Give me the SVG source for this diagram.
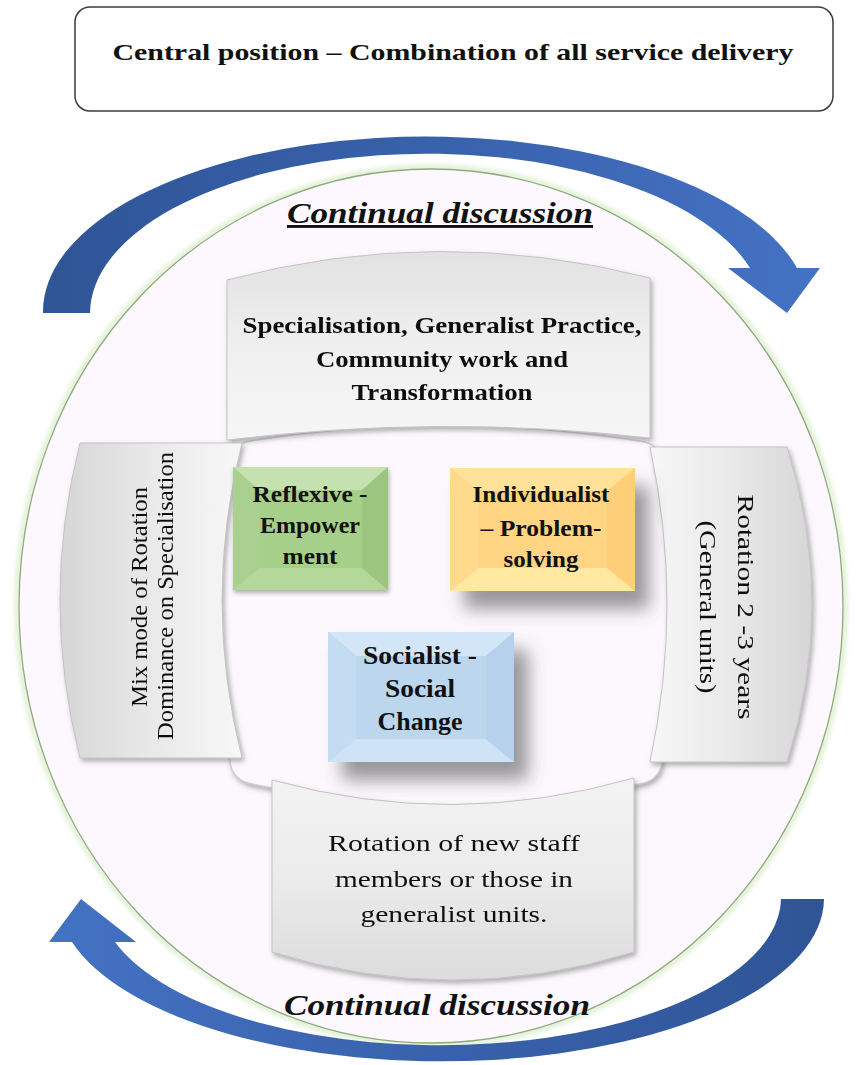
<svg xmlns="http://www.w3.org/2000/svg" width="857" height="1065" viewBox="0 0 857 1065">
  <style>
    .serif { font-family: "Liberation Serif", "DejaVu Serif", serif; fill: #111; }
    .b { font-weight: bold; }
    .mid { text-anchor: middle; }
    .cont { font-family: "Liberation Serif", "DejaVu Serif", serif; font-style: italic; font-weight: bold; font-size: 29px; fill: #111; text-anchor: middle; }
    .plate { stroke: #c4c4c4; stroke-width: 1; }
  </style>
  <defs>
    <linearGradient id="arrowTop" gradientUnits="userSpaceOnUse" x1="43" y1="0" x2="820" y2="0">
      <stop offset="0" stop-color="#2f5597"/>
      <stop offset="0.55" stop-color="#3a63ae"/>
      <stop offset="1" stop-color="#4472c4"/>
    </linearGradient>
    <linearGradient id="arrowBottom" gradientUnits="userSpaceOnUse" x1="49" y1="0" x2="824" y2="0">
      <stop offset="0" stop-color="#4472c4"/>
      <stop offset="0.45" stop-color="#3a63ae"/>
      <stop offset="1" stop-color="#2f5597"/>
    </linearGradient>
    <linearGradient id="gTop" x1="0" y1="0" x2="0" y2="1">
      <stop offset="0" stop-color="#e2e2e2"/>
      <stop offset="0.5" stop-color="#efefef"/>
      <stop offset="1" stop-color="#f6f6f6"/>
    </linearGradient>
    <linearGradient id="gBottom" x1="0" y1="1" x2="0" y2="0">
      <stop offset="0" stop-color="#dcdcdc"/>
      <stop offset="0.5" stop-color="#ebebeb"/>
      <stop offset="1" stop-color="#f3f3f3"/>
    </linearGradient>
    <linearGradient id="gLeft" x1="0" y1="0" x2="1" y2="0">
      <stop offset="0" stop-color="#d6d6d6"/>
      <stop offset="0.5" stop-color="#e9e9e9"/>
      <stop offset="1" stop-color="#f7f7f7"/>
    </linearGradient>
    <linearGradient id="gRight" x1="1" y1="0" x2="0" y2="0">
      <stop offset="0" stop-color="#d6d6d6"/>
      <stop offset="0.5" stop-color="#e9e9e9"/>
      <stop offset="1" stop-color="#f7f7f7"/>
    </linearGradient>
    <filter id="softShadow" x="-10%" y="-10%" width="125%" height="125%">
      <feDropShadow dx="2" dy="3" stdDeviation="2.5" flood-color="#6f6f6f" flood-opacity="0.55"/>
    </filter>
    <filter id="bigShadow" x="-20%" y="-20%" width="160%" height="170%">
      <feDropShadow dx="14" dy="18" stdDeviation="9" flood-color="#555" flood-opacity="0.6"/>
    </filter>
    <filter id="smallShadow" x="-10%" y="-10%" width="125%" height="130%">
      <feDropShadow dx="1" dy="3" stdDeviation="2" flood-color="#666" flood-opacity="0.5"/>
    </filter>
    <filter id="ringGlow" x="-5%" y="-5%" width="110%" height="110%">
      <feGaussianBlur stdDeviation="2"/>
    </filter>
  </defs>

  <rect width="857" height="1065" fill="#ffffff"/>

  <!-- title box -->
  <g id="title">
    <rect x="75" y="7" width="758" height="104" rx="15" fill="#ffffff" stroke="#3a3a3a" stroke-width="1.5"/>
    <text class="serif b mid" x="453" y="60" font-size="24" textLength="681" lengthAdjust="spacingAndGlyphs">Central position – Combination of all service delivery</text>
  </g>

  <!-- outer ring -->
  <g id="ring">
    <ellipse cx="431" cy="606" rx="414" ry="439" fill="none" stroke="#dff0d2" stroke-width="5" filter="url(#ringGlow)"/>
    <ellipse cx="431" cy="606" rx="412" ry="437" fill="#fcf8fd" stroke="#8fa97e" stroke-width="1.3"/>
  </g>

  <!-- circulating arrows -->
  <g id="connectors">
    <path d="M 43 313 A 383 175 0 0 1 797 268 L 820 268 L 787 313 L 728 268 L 750 268 A 337 160 0 0 0 90 313 Z" fill="url(#arrowTop)"/>
    <path d="M 824 899 A 383 163 0 0 1 72 942 L 49 942 L 81 899 L 136 942 L 115 942 A 341 148 0 0 0 781 899 Z" fill="url(#arrowBottom)"/>
  </g>

  <g id="label-top">
    <text class="cont" x="440" y="223" textLength="306" lengthAdjust="spacingAndGlyphs" text-decoration="underline">Continual discussion</text>
  </g>

  <!-- centre plate -->
  <g id="centre">
    <path d="M 250 441 Q 440 410 640 441 Q 660 444 662 462 Q 684 604 662 762 Q 660 780 640 784 Q 450 826 252 784 Q 232 780 230 762 Q 204 610 230 462 Q 232 444 250 441 Z" fill="#fcf8fd" stroke="#cfcbd2" stroke-width="1.5" filter="url(#softShadow)"/>
  </g>

  <!-- four arched plates -->
  <g id="plate-top" filter="url(#softShadow)">
    <path class="plate" d="M 227 280 Q 438 224 650 278 L 650 438 Q 440 414 227 440 Z" fill="url(#gTop)"/>
    <text class="serif b mid" x="442" y="333" font-size="24" textLength="399" lengthAdjust="spacingAndGlyphs">Specialisation, Generalist Practice,</text>
    <text class="serif b mid" x="442" y="367" font-size="24" textLength="252" lengthAdjust="spacingAndGlyphs">Community work and</text>
    <text class="serif b mid" x="442" y="400" font-size="24" textLength="181" lengthAdjust="spacingAndGlyphs">Transformation</text>
  </g>

  <g id="plate-left" filter="url(#softShadow)">
    <path class="plate" d="M 80 443 L 242 443 Q 202 600 242 758 L 80 758 Q 40 600 80 443 Z" fill="url(#gLeft)"/>
    <text class="serif mid" transform="translate(147,597) rotate(-90)" font-size="24" textLength="220" lengthAdjust="spacingAndGlyphs">Mix mode of Rotation</text>
    <text class="serif mid" transform="translate(173,596) rotate(-90)" font-size="24" textLength="288" lengthAdjust="spacingAndGlyphs">Dominance on Specialisation</text>
  </g>

  <g id="plate-right" filter="url(#softShadow)">
    <path class="plate" d="M 650 447 L 787 447 Q 837 604 787 762 L 650 762 Q 684 604 650 447 Z" fill="url(#gRight)"/>
    <text class="serif mid" transform="translate(738,607) rotate(90)" font-size="24" textLength="225" lengthAdjust="spacingAndGlyphs">Rotation 2 -3 years</text>
    <text class="serif mid" transform="translate(700,607) rotate(90)" font-size="24" textLength="173" lengthAdjust="spacingAndGlyphs">(General units)</text>
  </g>

  <g id="plate-bottom" filter="url(#softShadow)">
    <path class="plate" d="M 272 780 Q 453 830 634 778 L 634 952 Q 453 1008 272 952 Z" fill="url(#gBottom)"/>
    <text class="serif mid" x="454" y="851" font-size="24" textLength="252" lengthAdjust="spacingAndGlyphs">Rotation of new staff</text>
    <text class="serif mid" x="454" y="887" font-size="24" textLength="238" lengthAdjust="spacingAndGlyphs">members or those in</text>
    <text class="serif mid" x="454" y="922" font-size="24" textLength="187" lengthAdjust="spacingAndGlyphs">generalist units.</text>
  </g>

  <!-- bevelled perspective boxes -->
  <g id="box-reflexive">
    <rect x="233" y="467" width="155" height="123" fill="#a6cf89" filter="url(#smallShadow)"/>
    <polygon points="233,467 388,467 362,490 259,490" fill="#c6e1b0"/>
    <polygon points="233,590 388,590 362,568 259,568" fill="#b3d89a"/>
    <polygon points="233,467 259,490 259,568 233,590" fill="#a9d08e"/>
    <polygon points="388,467 362,490 362,568 388,590" fill="#9cc680"/>
    <text class="serif b mid" x="310" y="502" font-size="23" textLength="115" lengthAdjust="spacingAndGlyphs">Reflexive -</text>
    <text class="serif b mid" x="310" y="533" font-size="23" textLength="100" lengthAdjust="spacingAndGlyphs">Empower</text>
    <text class="serif b mid" x="310" y="564" font-size="23" textLength="55" lengthAdjust="spacingAndGlyphs">ment</text>
  </g>

  <g id="box-individualist">
    <rect x="450" y="468" width="185" height="123" fill="#ffd483" filter="url(#bigShadow)"/>
    <polygon points="450,468 635,468 607,491 478,491" fill="#ffe199"/>
    <polygon points="450,591 635,591 607,568 478,568" fill="#ffe89f"/>
    <polygon points="450,468 478,491 478,568 450,591" fill="#ffd98c"/>
    <polygon points="635,468 607,491 607,568 635,591" fill="#ffce78"/>
    <text class="serif b mid" x="541" y="502" font-size="23" textLength="137" lengthAdjust="spacingAndGlyphs">Individualist</text>
    <text class="serif b mid" x="541" y="536" font-size="23" textLength="121" lengthAdjust="spacingAndGlyphs">– Problem-</text>
    <text class="serif b mid" x="541" y="567" font-size="23" textLength="75" lengthAdjust="spacingAndGlyphs">solving</text>
  </g>

  <g id="box-socialist">
    <rect x="328" y="632" width="186" height="130" fill="#bcd6ee" filter="url(#bigShadow)"/>
    <polygon points="328,632 514,632 486,656 356,656" fill="#d3e6f7"/>
    <polygon points="328,762 514,762 486,739 356,739" fill="#cfe3f7"/>
    <polygon points="328,632 356,656 356,739 328,762" fill="#c4dcf2"/>
    <polygon points="514,632 486,656 486,739 514,762" fill="#b5d1ec"/>
    <text class="serif b mid" x="420" y="664" font-size="25" textLength="114" lengthAdjust="spacingAndGlyphs">Socialist -</text>
    <text class="serif b mid" x="420" y="697" font-size="25" textLength="70" lengthAdjust="spacingAndGlyphs">Social</text>
    <text class="serif b mid" x="420" y="730" font-size="25" textLength="85" lengthAdjust="spacingAndGlyphs">Change</text>
  </g>

  <g id="label-bottom">
    <text class="cont" x="437" y="1015" textLength="306" lengthAdjust="spacingAndGlyphs">Continual discussion</text>
  </g>
</svg>
